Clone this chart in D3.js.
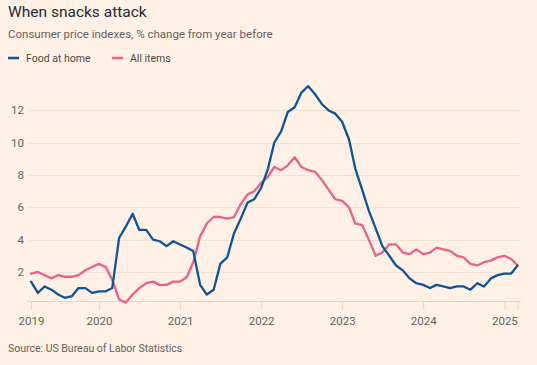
<!DOCTYPE html>
<html>
<head>
<meta charset="utf-8">
<script src="https://cdn.jsdelivr.net/npm/d3@7"></script>
<style>
  html, body { margin: 0; padding: 0; background: #fff1e5; }
  svg { display: block; }
</style>
</head>
<body>
<div id="chart"></div>
<script>
// ---- Data (monthly, Mar 2019 – Mar 2025) ----
const startYear = 2019, startMonth = 2; // March 2019 (0-based month)
const foodAtHome = [
  1.4, 0.7, 1.1, 0.9, 0.6, 0.4, 0.5, 1.0, 1.0, 0.7,              // 2019 Mar–Dec
  0.8, 0.8, 1.0, 4.1, 4.8, 5.6, 4.6, 4.6, 4.0, 3.9, 3.6, 3.9,    // 2020
  3.7, 3.5, 3.3, 1.2, 0.6, 0.9, 2.5, 2.9, 4.4, 5.3, 6.3, 6.5,    // 2021
  7.2, 8.4, 10.0, 10.7, 11.9, 12.2, 13.1, 13.5, 13.0, 12.4, 12.0, 11.8, // 2022
  11.3, 10.2, 8.4, 7.1, 5.8, 4.7, 3.6, 3.0, 2.4, 2.1, 1.6, 1.3,  // 2023
  1.2, 1.0, 1.2, 1.1, 1.0, 1.1, 1.1, 0.9, 1.3, 1.1, 1.6, 1.8,    // 2024
  1.9, 1.9, 2.4                                                   // 2025 Jan–Mar
];
const allItems = [
  1.9, 2.0, 1.8, 1.6, 1.8, 1.7, 1.7, 1.8, 2.1, 2.3,              // 2019 Mar–Dec
  2.5, 2.3, 1.5, 0.3, 0.1, 0.6, 1.0, 1.3, 1.4, 1.2, 1.2, 1.4,    // 2020
  1.4, 1.7, 2.6, 4.2, 5.0, 5.4, 5.4, 5.3, 5.4, 6.2, 6.8, 7.0,    // 2021
  7.5, 7.9, 8.5, 8.3, 8.6, 9.1, 8.5, 8.3, 8.2, 7.7, 7.1, 6.5,    // 2022
  6.4, 6.0, 5.0, 4.9, 4.0, 3.0, 3.2, 3.7, 3.7, 3.2, 3.1, 3.4,    // 2023
  3.1, 3.2, 3.5, 3.4, 3.3, 3.0, 2.9, 2.5, 2.4, 2.6, 2.7, 2.9,    // 2024
  3.0, 2.8, 2.4                                                   // 2025 Jan–Mar
];
const seriesNames = ["Food at home", "All items"];
const yTicks = [2, 4, 6, 8, 10, 12];
const xTickYears = [2019, 2020, 2021, 2022, 2023, 2024, 2025];

const titleText = "When snacks attack";
const subtitleText = "Consumer price indexes, % change from year before";
const sourceText = "Source: US Bureau of Labor Statistics";

// ---- Build ----
const W = 537, H = 365;
const colors = ["#0f5499", "#e8628a"];
const font = "Roboto, 'Noto Sans', sans-serif";

const dates = foodAtHome.map((_, i) => new Date(startYear, startMonth + i, 1));
const series = [foodAtHome, allItems].map((vals, k) => ({
  name: seriesNames[k], color: colors[k],
  values: vals.map((v, i) => ({ date: dates[i], value: v }))
}));

const svg = d3.select("#chart").append("svg").attr("width", W).attr("height", H)
  .style("background", "#fff1e5");

const x = d3.scaleTime().domain([dates[0], dates[dates.length - 1]]).range([31, 517.5]);
const y = d3.scaleLinear().domain([0.2, 13.5]).range([301, 86.2]);

// Title etc
svg.append("text").attr("x", 8).attr("y", 17)
  .style("font-family", font).style("font-size", "15.5px").style("font-weight", 400)
  .attr("fill", "#262a33").text(titleText);
svg.append("text").attr("x", 8).attr("y", 38)
  .style("font-family", font).style("font-size", "11.5px")
  .attr("fill", "#66605c").text(subtitleText);

// Legend
const legendX = [8, 112];
series.forEach((s, k) => {
  const g = svg.append("g").attr("transform", `translate(${legendX[k]},58)`);
  g.append("line").attr("x1", 0).attr("x2", 11).attr("y1", 0).attr("y2", 0)
    .attr("stroke", s.color).attr("stroke-width", 2.5);
  g.append("text").attr("x", 18).attr("y", 4)
    .style("font-family", font).style("font-size", "10.5px")
    .attr("fill", "#4d4845").text(s.name);
});

// Gridlines
svg.append("g").selectAll("line").data(yTicks).join("line")
  .attr("x1", 29).attr("x2", 521)
  .attr("y1", d => Math.round(y(d)) + 0.5).attr("y2", d => Math.round(y(d)) + 0.5)
  .attr("stroke", "#f2e3d6").attr("stroke-width", 1);

// Y labels
svg.append("g").selectAll("text").data(yTicks).join("text")
  .attr("x", 24).attr("y", d => y(d)).attr("dy", "0.35em")
  .attr("text-anchor", "end")
  .style("font-family", font).style("font-size", "11.5px")
  .attr("fill", "#66605c").text(d => d);

// X axis
const tickDates = [dates[0]].concat(xTickYears.slice(1).map(yr => new Date(yr, 0, 1))).concat([dates[dates.length - 1]]);
const xAxis = d3.axisBottom(x).tickValues(tickDates).tickSize(9).tickSizeOuter(0)
  .tickFormat((d, i) => i === 0 ? String(xTickYears[0]) : (i <= xTickYears.length - 1 ? String(xTickYears[i]) : ""));
const gx = svg.append("g").attr("transform", "translate(0,301)").call(xAxis);
gx.select(".domain").remove();
gx.selectAll(".tick line").attr("stroke", "#e6d6c8");
gx.selectAll(".tick text").style("font-family", font).style("font-size", "11.5px")
  .attr("fill", "#66605c").attr("dy", "1.05em").attr("y", 12);
svg.append("line").attr("x1", 27).attr("x2", 521).attr("y1", 301.5).attr("y2", 301.5)
  .attr("stroke", "#e6d6c8");

// Lines
const line = d3.line().x(d => x(d.date)).y(d => y(d.value)).curve(d3.curveLinear);
svg.append("g").selectAll("path").data(series.slice().reverse()).join("path")
  .attr("d", d => line(d.values))
  .attr("fill", "none").attr("stroke", d => d.color)
  .attr("stroke-width", 2.3).attr("stroke-linejoin", "round").attr("stroke-linecap", "round");

// Source
svg.append("text").attr("x", 8).attr("y", 352)
  .style("font-family", font).style("font-size", "10.5px")
  .attr("fill", "#66605c").text(sourceText);
</script>
</body>
</html>
